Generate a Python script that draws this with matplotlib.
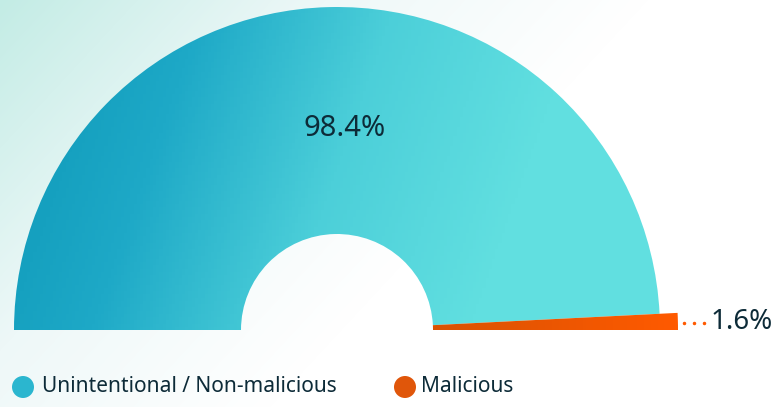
import matplotlib.pyplot as plt
import numpy as np
from matplotlib.patches import Wedge, Circle
from matplotlib.colors import LinearSegmentedColormap

# data
categories = ['Unintentional / Non-malicious', 'Malicious']
shares = [98.4, 1.6]
labels = ['98.4%', '1.6%']

plt.rcParams['font.family'] = ['Noto Sans', 'DejaVu Sans']

W, H = 775, 407
fig = plt.figure(figsize=(W / 100, H / 100), dpi=100)
ax = fig.add_axes([0, 0, 1, 1])
ax.set_xlim(0, W)
ax.set_ylim(0, H)
ax.set_aspect('equal')
ax.axis('off')

# background wash: mint in the top-left corner fading to white
yy, xx = np.mgrid[0:H, 0:W]
t = np.clip(1 - (xx / 650.0 + yy / 700.0), 0, 1)
bg = LinearSegmentedColormap.from_list('bg', ['#ffffff', '#eef8f8', '#c3ece5'])
ax.imshow(t, cmap=bg, extent=(0, W, 0, H), origin='upper', zorder=0, vmin=0, vmax=1)

cx, cy = 337, 77
r_out, r_in = 323, 96
r_small = 341

teal = LinearSegmentedColormap.from_list('teal', ['#0c97b7', '#1ea9c7', '#4ccfd9', '#61dfe0', '#62e0e0'])
orange = LinearSegmentedColormap.from_list('orng', ['#c94f04', '#ff5a00'])

total = sum(shares)
angle = 180.0
for i, (name, val) in enumerate(zip(categories, shares)):
    sweep = 180.0 * val / total
    a1, a0 = angle, angle - sweep
    r = r_out if i == 0 else r_small
    wedge = Wedge((cx, cy), r, a0, a1, width=r - r_in, facecolor='none', edgecolor='none')
    ax.add_patch(wedge)
    gx = np.linspace(0, 1, 200)[None, :] * np.ones((100, 1))
    gy = np.linspace(0, 1, 100)[:, None] * np.ones((1, 200))
    if i == 0:
        g = np.clip(gx * 0.85 + gy * 0.15, 0, 1)
        im = ax.imshow(g, cmap=teal, extent=(cx - r, cx + r, cy, cy + r),
                       origin='upper', zorder=2, vmin=0, vmax=1)
    else:
        g = np.clip((gx - 0.5) * 2, 0, 1)
        im = ax.imshow(g, cmap=orange, extent=(cx - r, cx + r, cy, cy + r),
                       origin='upper', zorder=2, vmin=0, vmax=1)
    im.set_clip_path(wedge)
    angle = a0

ax.text(345, H - 128, labels[0], fontsize=21, color='#0d2b38',
        ha='center', va='center', zorder=5)

# leader dots and small label
ax.plot([684, 694, 704], [H - 323] * 3, linestyle='none', marker='o',
        markersize=1.5, color='#ff5a00', zorder=5)
ax.text(711, H - 322, labels[1], fontsize=20, color='#0d2b38',
        ha='left', va='center', zorder=5)

# legend
leg = [(23, 42, '#2bb6cf'), (405, 421, '#e0560a')]
for (mx, tx, col), name in zip(leg, categories):
    ax.add_patch(Circle((mx, H - 387), 11, facecolor=col, edgecolor='none', zorder=5))
    ax.text(tx, H - 386, name, fontsize=15, fontweight='medium', color='#0d2b38',
            ha='left', va='center', zorder=5)

fig.savefig('out.png', dpi=100)
